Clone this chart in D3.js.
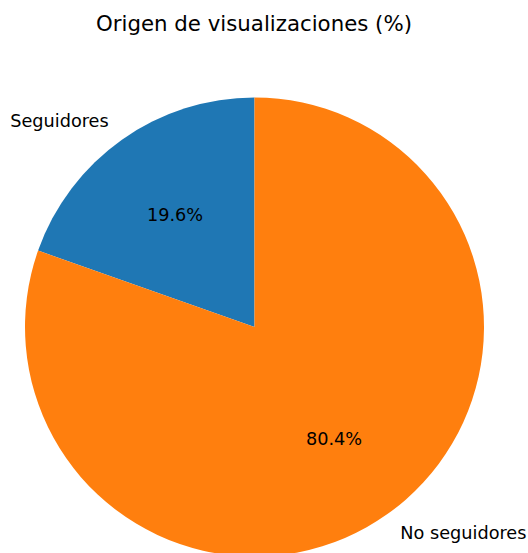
<!DOCTYPE html>
<html>
<head>
<meta charset="utf-8">
<script src="https://cdn.jsdelivr.net/npm/d3@7"></script>
<style>
  body { margin: 0; background: #fff; }
  text { font-family: "DejaVu Sans", sans-serif; fill: #000; }
</style>
</head>
<body>
<div id="chart"></div>
<script>
// data
var labels = ["Seguidores", "No seguidores"];
var values = [19.6, 80.4];
var colors = ["#1f77b4", "#ff7f0e"];

var width = 528, height = 553;
var cx = 254.5, cy = 327, radius = 229.5;

var svg = d3.select("#chart")
    .append("svg")
    .attr("width", width)
    .attr("height", height);

svg.append("text")
    .attr("x", 254)
    .attr("y", 31)
    .attr("text-anchor", "middle")
    .attr("font-size", "21.3px")
    .text("Origen de visualizaciones (%)");

var data = labels.map(function (d, i) { return { label: d, value: values[i], color: colors[i] }; });

// start at the top, going counter-clockwise
var pie = d3.pie()
    .sort(null)
    .value(function (d) { return d.value; })
    .startAngle(0)
    .endAngle(-2 * Math.PI);

var arcs = pie(data);

var g = svg.append("g")
    .attr("transform", "translate(" + cx + "," + cy + ")");

var arc = d3.arc().innerRadius(0).outerRadius(radius);

g.selectAll("path")
    .data(arcs)
    .enter()
    .append("path")
    .attr("d", arc)
    .attr("fill", function (d) { return d.data.color; });

function pos(d, k) {
    var a = (d.startAngle + d.endAngle) / 2;
    return [Math.sin(a) * radius * k, -Math.cos(a) * radius * k];
}

// percentages
g.selectAll(".pct")
    .data(arcs)
    .enter()
    .append("text")
    .attr("class", "pct")
    .attr("x", function (d) { return pos(d, 0.6)[0]; })
    .attr("y", function (d) { return pos(d, 0.6)[1]; })
    .attr("text-anchor", "middle")
    .attr("dominant-baseline", "central")
    .attr("font-size", "17.7px")
    .text(function (d) { return d.data.value.toFixed(1) + "%"; });

// labels outside
g.selectAll(".lbl")
    .data(arcs)
    .enter()
    .append("text")
    .attr("class", "lbl")
    .attr("x", function (d) { return pos(d, 1.1)[0]; })
    .attr("y", function (d) { return pos(d, 1.1)[1]; })
    .attr("text-anchor", function (d) { return pos(d, 1.1)[0] < 0 ? "end" : "start"; })
    .attr("dominant-baseline", "central")
    .attr("font-size", "17.7px")
    .text(function (d) { return d.data.label; });
</script>
</body>
</html>
